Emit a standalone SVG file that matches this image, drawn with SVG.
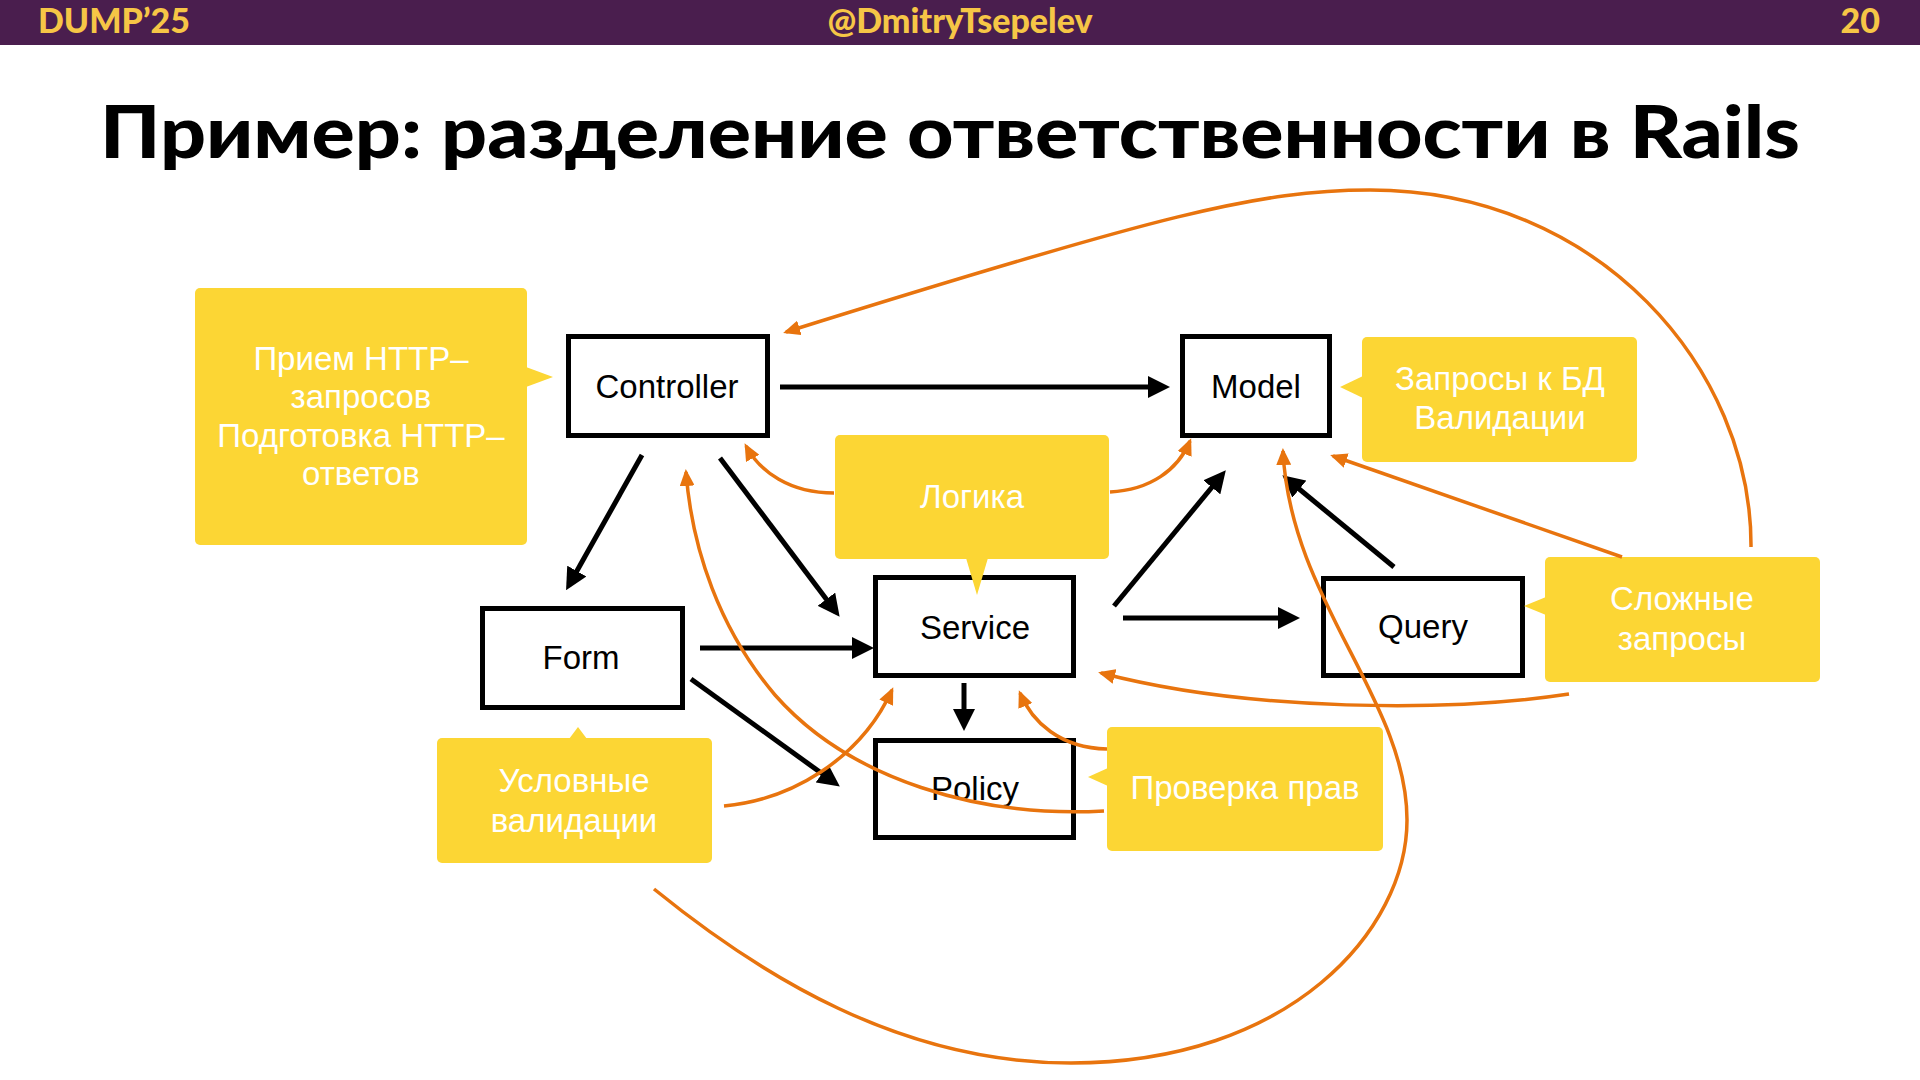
<svg xmlns="http://www.w3.org/2000/svg" width="1920" height="1080" viewBox="0 0 1920 1080">
<defs>
<style>
.hdr{font-family:Lato,"Open Sans","DejaVu Sans",sans-serif;font-weight:900;font-size:34px;fill:#F6C646}
.title{font-family:Lato,"Open Sans","DejaVu Sans",sans-serif;font-weight:900;font-size:72px;fill:#000}
.box{fill:#fff;stroke:#000;stroke-width:5}
.ntext{font-family:"Liberation Sans",Arial,sans-serif;font-size:33px;fill:#000;text-anchor:middle}
.call{fill:#FCD634}
.ctext{font-family:"Liberation Sans",Arial,sans-serif;font-size:33px;fill:#fff;text-anchor:middle}
.blk{fill:none;stroke:#000;stroke-width:5;marker-end:url(#ab)}
.org{fill:none;stroke:#E8740E;stroke-width:3.5;marker-end:url(#ao)}
</style>
<marker id="ab" markerUnits="userSpaceOnUse" markerWidth="22" markerHeight="22" viewBox="0 0 22 22" refX="16" refY="11" orient="auto"><path d="M0,0 L22,11 L0,22 Z" fill="#000"/></marker>
<marker id="ao" markerUnits="userSpaceOnUse" markerWidth="17" markerHeight="15" viewBox="0 0 17 15" refX="14" refY="7.5" orient="auto"><path d="M0,0 L17,7.5 L0,15 Z" fill="#E8740E"/></marker>
</defs>
<rect width="1920" height="1080" fill="#fff"/>
<g id="header">
<rect x="0" y="0" width="1920" height="45" fill="#4A1E4E"/>
<text class="hdr" x="38" y="33">DUMP’25</text>
<text class="hdr" x="960" y="33" text-anchor="middle">@DmitryTsepelev</text>
<text class="hdr" x="1880" y="33" text-anchor="end">20</text>
</g>
<text class="title" x="100" y="158" textLength="1700" lengthAdjust="spacingAndGlyphs">Пример: разделение ответственности в Rails</text>

<g id="controller"><rect class="box" x="568.5" y="336.5" width="199" height="99"/><text class="ntext" x="667" y="398">Controller</text></g>
<g id="model"><rect class="box" x="1182.5" y="336.5" width="147" height="99"/><text class="ntext" x="1256" y="398">Model</text></g>
<g id="form"><rect class="box" x="482.5" y="608.5" width="200" height="99"/><text class="ntext" x="581" y="669">Form</text></g>
<g id="service"><rect class="box" x="875.5" y="577.5" width="198" height="98"/><text class="ntext" x="975" y="639">Service</text></g>
<g id="query"><rect class="box" x="1323.5" y="578.5" width="199" height="97"/><text class="ntext" x="1423" y="638">Query</text></g>
<g id="policy"><rect class="box" x="875.5" y="740.5" width="198" height="97"/><text class="ntext" x="975" y="800">Policy</text></g>

<g id="note-controller">
<rect class="call" x="195" y="288" width="332" height="257" rx="5"/>
<polygon class="call" points="526,367 553,377 526,387"/>
<text class="ctext" x="361" y="370">Прием HTTP–</text>
<text class="ctext" x="361" y="408">запросов</text>
<text class="ctext" x="361" y="447">Подготовка HTTP–</text>
<text class="ctext" x="361" y="485">ответов</text>
</g>
<g id="note-service">
<rect class="call" x="835" y="435" width="274" height="124" rx="5"/>
<polygon class="call" points="966,558 977,595 988,558"/>
<text class="ctext" x="972" y="508">Логика</text>
</g>
<g id="note-model">
<rect class="call" x="1362" y="337" width="275" height="125" rx="5"/>
<polygon class="call" points="1363,376 1340,387 1363,398"/>
<text class="ctext" x="1500" y="390">Запросы к БД</text>
<text class="ctext" x="1500" y="429">Валидации</text>
</g>
<g id="note-query">
<rect class="call" x="1545" y="557" width="275" height="125" rx="5"/>
<polygon class="call" points="1546,597 1524,606 1546,615"/>
<text class="ctext" x="1682" y="610">Сложные</text>
<text class="ctext" x="1682" y="650">запросы</text>
</g>
<g id="note-form">
<rect class="call" x="437" y="738" width="275" height="125" rx="5"/>
<polygon class="call" points="569,739 578,727 587,739"/>
<text class="ctext" x="574" y="792">Условные</text>
<text class="ctext" x="574" y="832">валидации</text>
</g>
<g id="note-policy">
<rect class="call" x="1107" y="727" width="276" height="124" rx="5"/>
<polygon class="call" points="1108,768 1088,777 1108,786"/>
<text class="ctext" x="1245" y="799">Проверка прав</text>
</g>

<g id="connectors">
<path class="blk" d="M780,387 L1164,387"/>
<path class="blk" d="M642,455 L569,585"/>
<path class="blk" d="M720,458 L836,612"/>
<path class="blk" d="M700,648 L868,648"/>
<path class="blk" d="M691,679 L835,783"/>
<path class="blk" d="M964,683 L964,725"/>
<path class="blk" d="M1114,606 L1222,475"/>
<path class="blk" d="M1123,618 L1294,618"/>
<path class="blk" d="M1394,567 L1287,479"/>

<path class="org" d="M1751,547 C1752,370 1600,190 1370,190 C1260,190 1160,215 786,332"/>
<path class="org" d="M834,493 C790,493 760,472 746,446"/>
<path class="org" d="M1110,492 C1150,490 1178,470 1190,441"/>
<path class="org" d="M724,806 C790,800 860,760 892,690"/>
<path class="org" d="M1104,811 C980,818 850,780 775,695 C720,630 692,550 686,472"/>
<path class="org" d="M1107,749 C1060,748 1032,722 1020,693"/>
<path class="org" d="M1622,557 L1333,456"/>
<path class="org" d="M1569,694 C1450,712 1250,712 1101,673"/>
<path class="org" d="M654,889 C760,975 900,1063 1071,1063 C1290,1063 1407,930 1407,820 C1407,700 1290,600 1283,451"/>
</g>
</svg>
